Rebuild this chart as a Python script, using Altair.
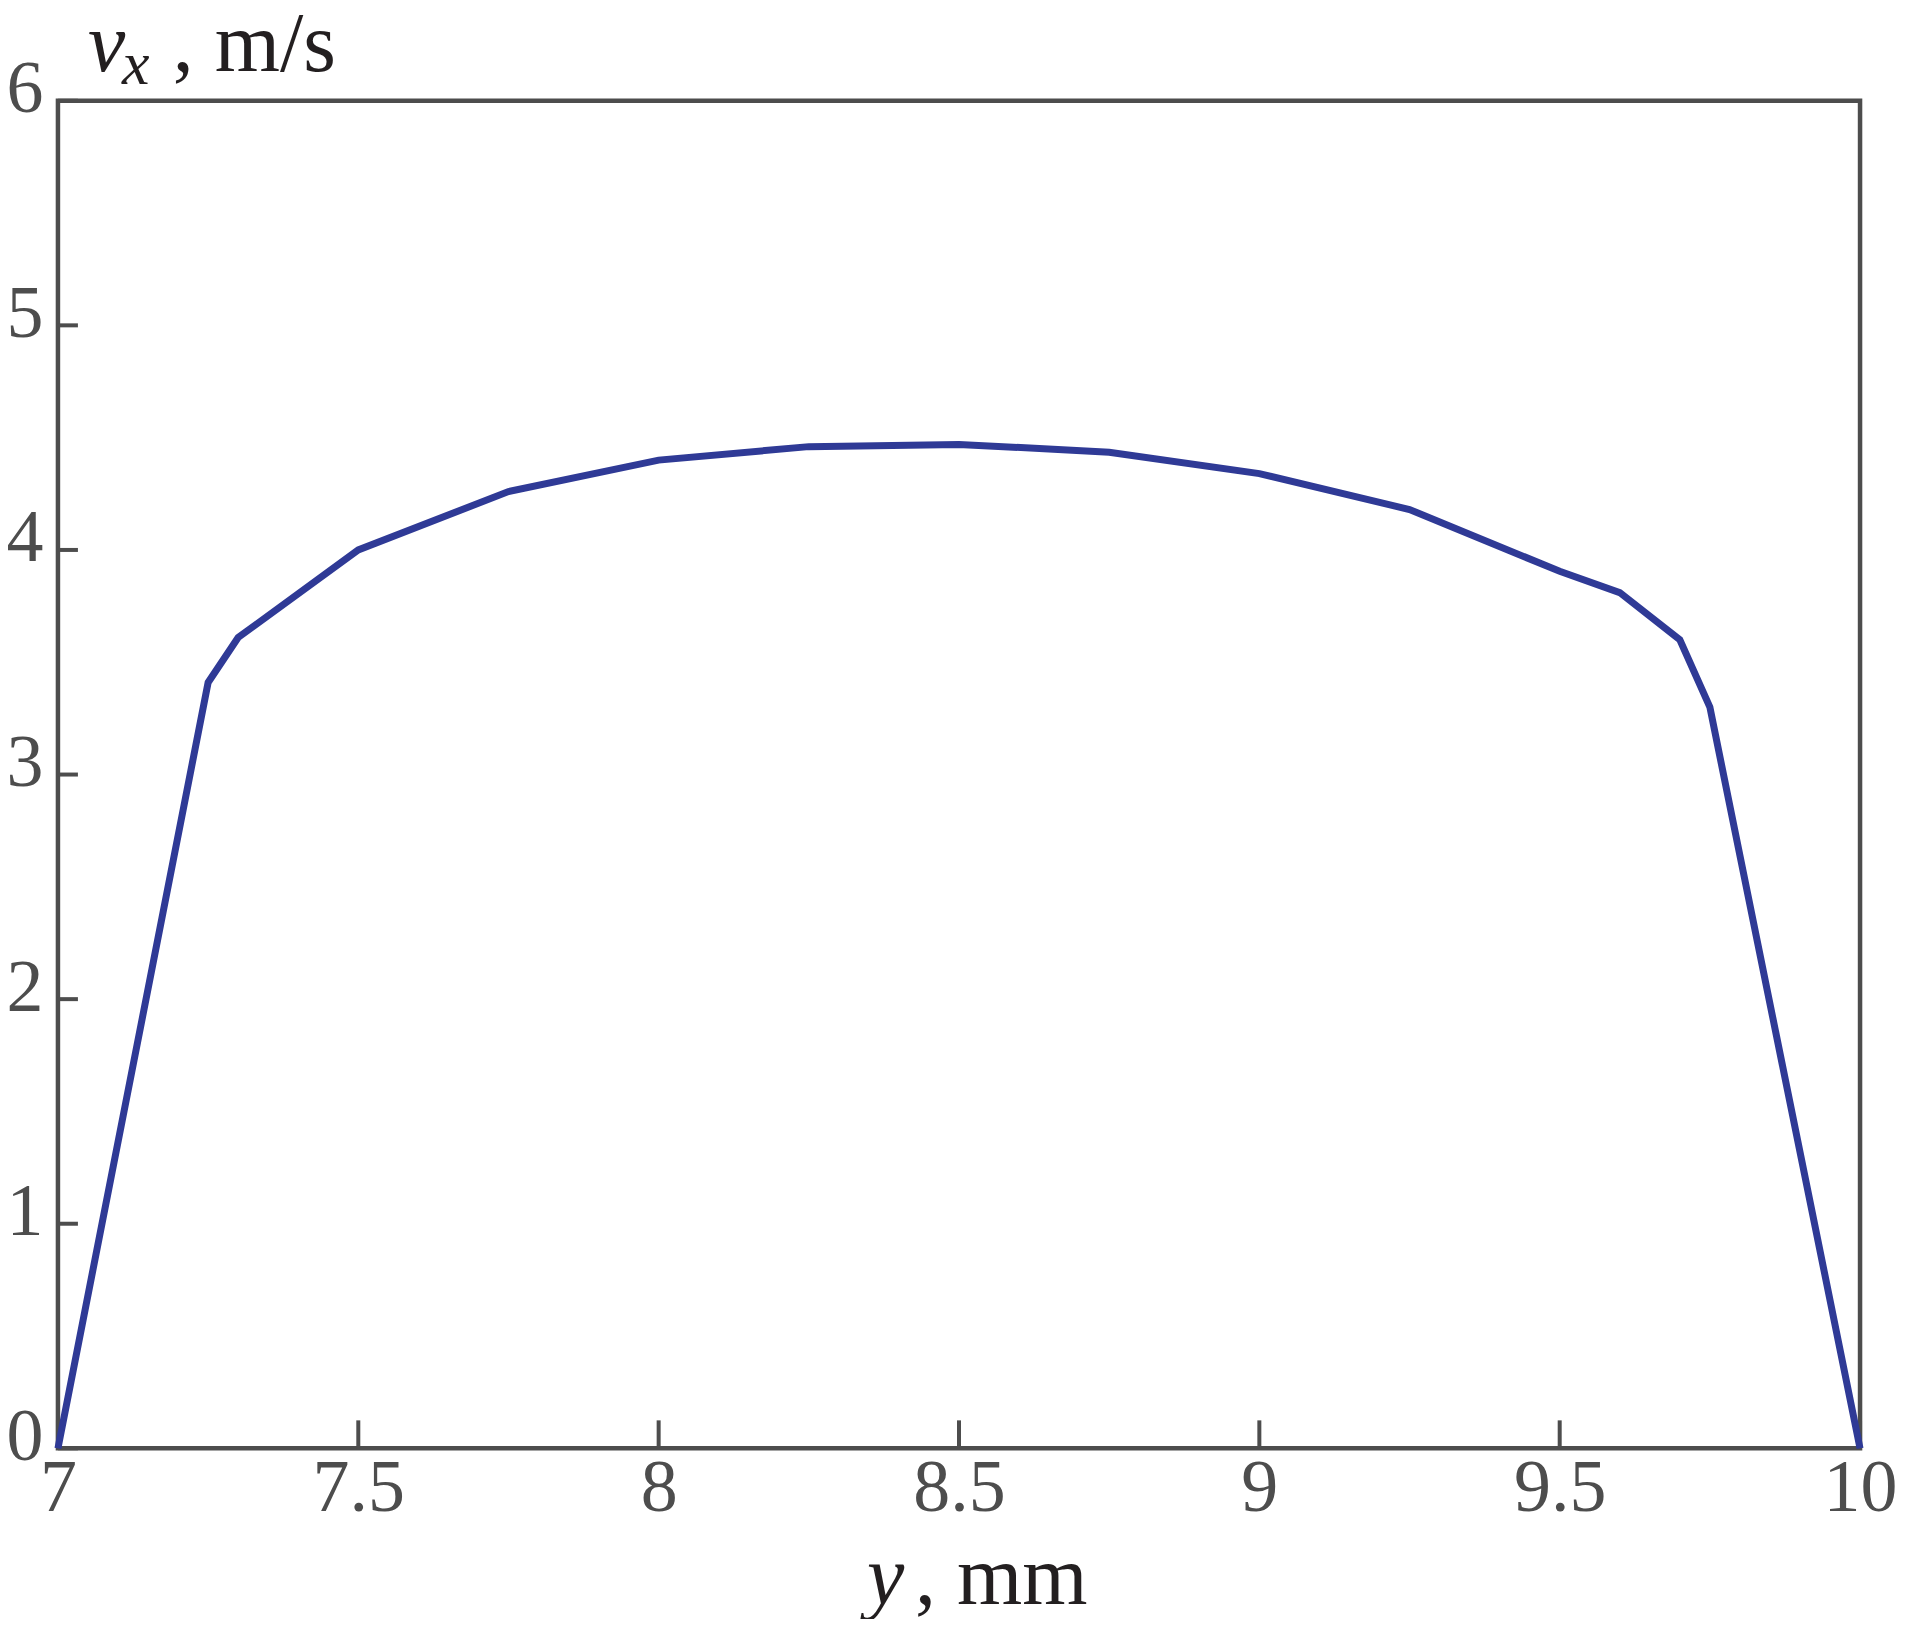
import altair as alt
import pandas as pd

# data
y_mm = [7.0, 7.25, 7.3, 7.5, 7.75, 8.0, 8.25, 8.5, 8.75, 9.0, 9.25, 9.5, 9.6, 9.7, 9.75, 10.0]
vx = [0.0, 3.41, 3.61, 4.0, 4.26, 4.40, 4.46, 4.47, 4.435, 4.34, 4.18, 3.905, 3.81, 3.60, 3.30, 0.0]
x_ticks = [7, 7.5, 8, 8.5, 9, 9.5, 10]
y_ticks = [0, 1, 2, 3, 4, 5, 6]

W, H = 1804, 1349
GREY = "#4d4d4d"
INK = "#231f20"
SERIF = "Liberation Serif"

df = pd.DataFrame({"y": y_mm, "v": vx})
xt = pd.DataFrame({"t": x_ticks})
yt = pd.DataFrame({"t": y_ticks})

xs = alt.Scale(domain=[7, 10], nice=False, zero=False)
ys = alt.Scale(domain=[0, 6], nice=False, zero=False)

line = alt.Chart(df).mark_line(color="#2f3a96", strokeWidth=7, strokeJoin="miter").encode(
    x=alt.X("y:Q", scale=xs, axis=alt.Axis(
        values=x_ticks, ticks=False, domain=False, grid=False, title=None,
        labelFont=SERIF, labelFontSize=74, labelColor=GREY, labelPadding=4,
        labelFlush=False, labelOverlap=False, labelExpr="'' + datum.value")),
    y=alt.Y("v:Q", scale=ys, axis=alt.Axis(
        values=y_ticks, ticks=False, domain=False, grid=False, title=None,
        labelFont=SERIF, labelFontSize=74, labelColor=GREY, labelPadding=15,
        labelFlush=False, labelOverlap=False, labelOffset=-11,
        labelExpr="'' + datum.value")),
)

xtick_marks = alt.Chart(xt).mark_rule(color=GREY, strokeWidth=4).encode(
    x=alt.X("t:Q", scale=xs), y=alt.value(H), y2=alt.value(H - 28))
ytick_marks = alt.Chart(yt).mark_rule(color=GREY, strokeWidth=4).encode(
    y=alt.Y("t:Q", scale=ys), x=alt.value(0), x2=alt.value(20))

def txt(s, x, y, size=84, style="normal", color=INK):
    return alt.Chart(pd.DataFrame({"s": [s]})).mark_text(
        font=SERIF, fontSize=size, fontStyle=style, color=color,
        align="left", baseline="alphabetic").encode(
        text="s:N", x=alt.value(x), y=alt.value(y))

titles = [
    txt("v", 30, -30, style="italic"),
    txt("x", 64, -17, size=62, style="italic"),
    txt(", m/s", 115, -30),
    txt("y", 810, 1505, style="italic"),
    txt(", mm", 858, 1505),
]

chart = alt.layer(xtick_marks, ytick_marks, line, *titles).properties(
    width=W, height=H,
    background="white",
    autosize=alt.AutoSizeParams(type="none"),
    padding={"left": 50, "top": 92, "right": 40, "bottom": 170},
).configure_view(stroke=GREY, strokeWidth=4.5)

chart.save("out.html", embed_options={"renderer": "svg", "actions": False})
